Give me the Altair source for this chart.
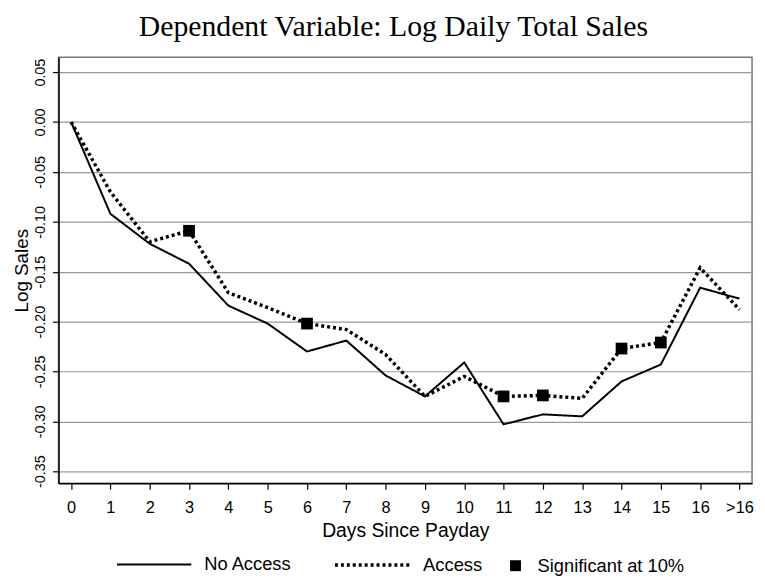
import altair as alt
import pandas as pd

days = ["0", "1", "2", "3", "4", "5", "6", "7", "8", "9", "10", "11", "12", "13", "14", "15", "16", ">16"]
no_access = [0.000, -0.092, -0.122, -0.142, -0.184, -0.202, -0.230, -0.219, -0.254, -0.275,
             -0.241, -0.303, -0.293, -0.295, -0.260, -0.243, -0.166, -0.177]
access = [0.000, -0.070, -0.120, -0.109, -0.171, -0.186, -0.202, -0.208, -0.233, -0.275,
          -0.255, -0.275, -0.274, -0.277, -0.227, -0.221, -0.146, -0.188]
significant = [False, False, False, True, False, False, True, False, False, False,
               False, True, True, False, True, True, False, False]
y_ticks = [0.05, 0.00, -0.05, -0.10, -0.15, -0.20, -0.25, -0.30, -0.35]

rows = []
for d, v in zip(days, no_access):
    rows.append({"day": d, "series": "No Access", "value": v})
for d, v in zip(days, access):
    rows.append({"day": d, "series": "Access", "value": v})
lines_df = pd.DataFrame(rows)

sig_df = pd.DataFrame({
    "day": [d for d, s in zip(days, significant) if s],
    "value": [v for v, s in zip(access, significant) if s],
    "label": ["Significant at 10%"] * sum(significant),
})

FONT = "Liberation Sans"

x_enc = alt.X("day:O", sort=days, scale=alt.Scale(type="point", padding=0.32),
              axis=alt.Axis(title="Days Since Payday", labelAngle=0, grid=False,
                            labelFontSize=16.5, titleFontSize=19.5, labelPadding=11,
                            titlePadding=5, tickSize=6, domainColor="black",
                            tickColor="black", domainWidth=1.5, tickWidth=1.2))
y_scale = alt.Scale(domain=[-0.362, 0.065], nice=False, zero=False)
y_axis = alt.Axis(title="Log Sales", values=y_ticks, grid=True, gridColor="#9a9a9a",
                  gridWidth=1.2, labelAngle=270, labelAlign="center", labelBaseline="bottom",
                  labelExpr="replace(format(datum.value, '.2f'), '\u2212', '-')",
                  labelFontSize=14.5, titleFontSize=19, tickSize=6, labelPadding=5,
                  titlePadding=1, domainColor="black", tickColor="black", domainWidth=1.5,
                  tickWidth=1.2)

lines = alt.Chart(lines_df).mark_line(color="black", strokeCap="butt").encode(
    x=x_enc,
    y=alt.Y("value:Q", scale=y_scale, axis=y_axis),
    strokeDash=alt.StrokeDash("series:N", sort=["No Access", "Access"],
                              scale=alt.Scale(domain=["No Access", "Access"], range=[[1, 0], [3, 3]]),
                              legend=alt.Legend(title=None, orient="none", direction="horizontal",
                                                legendX=58, legendY=473,
                                                symbolSize=5625, symbolStrokeColor="black",
                                                symbolStrokeWidth=3, labelFontSize=18.5,
                                                labelOffset=12, columnPadding=36,
                                                symbolType="stroke")),
    strokeWidth=alt.StrokeWidth("series:N", scale=alt.Scale(domain=["No Access", "Access"], range=[2, 3.5]),
                                legend=None),
)

points = alt.Chart(sig_df).mark_point(filled=True, color="black", opacity=1, size=140).encode(
    x=alt.X("day:O", sort=days),
    y=alt.Y("value:Q", scale=y_scale),
    shape=alt.Shape("label:N", scale=alt.Scale(range=["square"]),
                    legend=alt.Legend(title=None, orient="none", legendX=452, legendY=504,
                                      labelFontSize=18.5, labelOffset=13,
                                      symbolSize=121, symbolFillColor="black",
                                      symbolStrokeColor="black")),
)

chart = alt.layer(lines, points).properties(
    width=700, height=430,
    title=alt.Title("Dependent Variable: Log Daily Total Sales", font="Liberation Serif",
                    fontSize=30, fontWeight="normal", offset=15, color="black", dx=-12),
    padding={"left": 51, "top": 47, "right": 5, "bottom": 91},
    autosize=alt.AutoSizeParams(type="none"),
).configure(font=FONT).configure_view(stroke="#777", strokeWidth=1.5).configure_axis(
    labelFont=FONT, titleFont=FONT, labelColor="black", titleColor="black", titleFontWeight="normal"
).configure_legend(labelFont=FONT, labelColor="black")

chart.save("out.html", embed_options={"renderer": "svg", "actions": False})
